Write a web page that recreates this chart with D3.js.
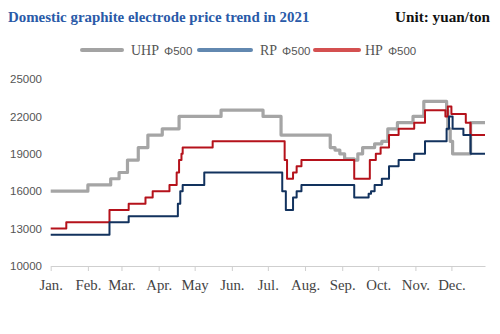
<!DOCTYPE html>
<html><head><meta charset="utf-8">
<script src="https://cdn.jsdelivr.net/npm/d3@7"></script>
<style>
html,body{margin:0;padding:0;background:#fff;}
svg{display:block;}
</style></head>
<body><svg id="c" width="500" height="334"></svg>
<script>
// ---- data ----
const monthLabels = ["Jan.","Feb.","Mar.","Apr.","May","Jun.","Jul.","Aug.","Sep.","Oct.","Nov.","Dec."];
const yTicks = [10000,13000,16000,19000,22000,25000];
const seriesNames = ["UHP","RP","HP"];

const uhpDates = ["01-01","02-01","02-20","02-27","03-06","03-15","03-23","04-04","04-18","05-23","06-27","07-12","08-22","08-26","08-30","09-03","09-11","09-14","09-18","09-28","10-04","10-09","10-17","10-30","11-08","11-27","11-28","11-30","12-02","12-17","12-29"];
const uhpValues = [16000,16500,17000,17500,18500,19500,20500,21000,22000,22500,22000,20500,19500,19300,19000,18600,18500,19000,19500,19800,20000,21000,21500,22000,23200,22500,21000,20000,19000,21500,21500];

const hpDates = ["01-01","01-14","02-19","03-07","03-21","03-27","04-10","04-16","04-18","04-20","04-21","05-16","07-15","07-17","07-22","07-25","07-29","09-11","09-24","09-29","10-03","10-10","10-18","10-31","11-09","11-26","11-28","12-01","12-13","12-17","12-29"];
const hpValues = [13000,13500,14500,15000,15500,16000,16500,17500,18500,19000,19500,20000,18500,17000,17500,18000,18500,17000,18500,19000,19500,20500,21000,21500,22500,22000,22800,22200,21500,20500,20500];

const rpDates = ["01-01","02-19","03-07","04-17","04-19","04-21","05-09","07-13","07-16","07-22","07-25","07-29","09-11","09-23","09-25","09-28","10-04","10-10","10-18","10-31","11-09","11-27","11-29","12-02","12-11","12-17","12-29"];
const rpValues = [12500,13500,14000,15000,16000,16500,17500,16000,14500,15500,16000,16500,15500,15800,16000,16500,17000,18000,18500,19000,20000,21000,22000,21000,20500,19000,19000];

// ---- setup ----
const svg = d3.select("#c");
const parse = s => new Date(Date.UTC(2021, +s.slice(0,2)-1, +s.slice(3,5)));
const x = d3.scaleUtc().domain([parse("01-01"), parse("12-29")]).range([50.7, 485]);
const y = d3.scaleLinear().domain([10000, 25000]).range([266, 79]);

// title
svg.append("text").attr("x", 8).attr("y", 21.5)
  .attr("font-family", "'Liberation Serif', 'Times New Roman', serif")
  .attr("font-weight", "bold").attr("font-size", 14.9).attr("fill", "#2a5aa8")
  .text("Domestic graphite electrode price trend in 2021");
svg.append("text").attr("x", 490).attr("y", 21.5).attr("text-anchor", "end")
  .attr("font-family", "'Liberation Serif', 'Times New Roman', serif")
  .attr("font-weight", "bold").attr("font-size", 15.2).attr("fill", "#111")
  .text("Unit: yuan/ton");

// legend
const legend = [
  {name: "UHP", x1: 82, x2: 122, tx: 131, color: "#a3a3a3"},
  {name: "RP", x1: 199, x2: 251, tx: 260, color: "#6288b0"},
  {name: "HP", x1: 315, x2: 359, tx: 365, color: "#d45050"}
];
const lg = svg.append("g");
legend.forEach(l => {
  lg.append("line").attr("x1", l.x1).attr("x2", l.x2).attr("y1", 50).attr("y2", 50)
    .attr("stroke", l.color).attr("stroke-width", 4).attr("stroke-linecap", "round");
  const t = lg.append("text").attr("x", l.tx).attr("y", 54.5).attr("fill", "#555");
  t.append("tspan").attr("font-family", "'Liberation Serif', serif").attr("font-size", 14).text(l.name + " ");
  t.append("tspan").attr("font-family", "'Liberation Sans', Arial, sans-serif").attr("font-size", 11.5).attr("dx", 2).text("Φ500");
});

// axes
const monthTicks = d3.range(12).map(m => new Date(Date.UTC(2021, m, 1)));
const xa = svg.append("g").attr("transform", "translate(0,266)")
  .call(d3.axisBottom(x).tickValues(monthTicks).tickSize(5).tickSizeOuter(0)
    .tickFormat((d, i) => monthLabels[i]));
xa.select(".domain").attr("stroke", "#cfcfcf");
xa.selectAll(".tick line").attr("stroke", "#cfcfcf");
xa.selectAll(".tick text").attr("font-family", "'Liberation Serif', 'Times New Roman', serif")
  .attr("font-size", 14.8).attr("fill", "#444").attr("dy", "1.05em");

const ya = svg.append("g").attr("transform", "translate(42,0)")
  .call(d3.axisLeft(y).tickValues(yTicks).tickSize(0).tickPadding(0).tickFormat(d3.format("d")));
ya.select(".domain").remove();
ya.selectAll(".tick text").attr("font-family", "'Liberation Sans', Arial, sans-serif")
  .attr("font-size", 11.5).attr("fill", "#555");

// lines
const mk = (dates, vals) => dates.map((d, i) => ({date: parse(d), value: vals[i]}));
const line = d3.line().x(d => x(d.date)).y(d => y(d.value)).curve(d3.curveStepAfter);
const series = [
  {data: mk(uhpDates, uhpValues), color: "#a5a5a5", w: 3.2},
  {data: mk(hpDates, hpValues), color: "#b5121b", w: 2},
  {data: mk(rpDates, rpValues), color: "#12325e", w: 2}
];
series.forEach(s => {
  svg.append("path").datum(s.data).attr("d", line)
    .attr("fill", "none").attr("stroke", s.color).attr("stroke-width", s.w)
    .attr("stroke-linejoin", "round");
});
</script>
</body></html>
